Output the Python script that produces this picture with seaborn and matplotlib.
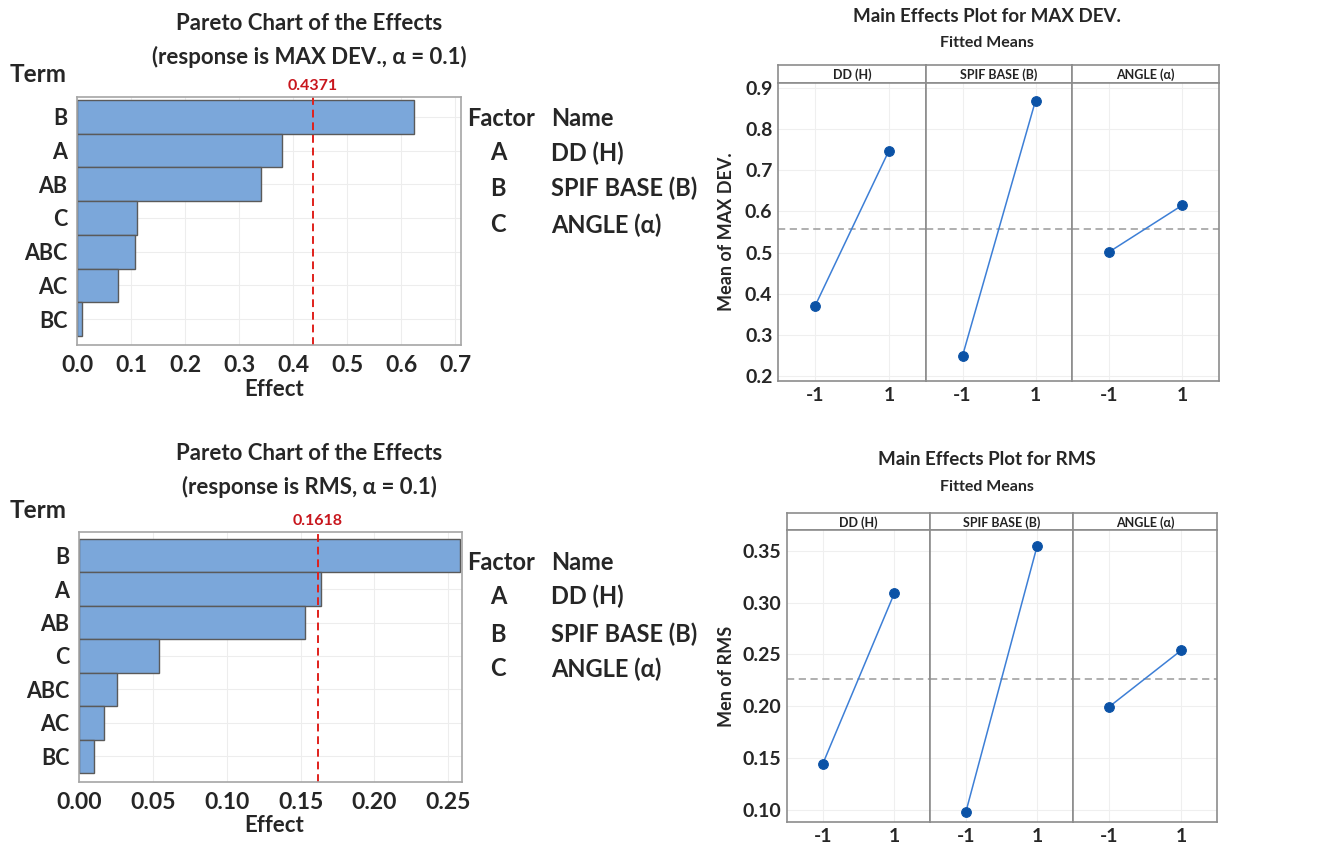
import matplotlib
matplotlib.use("Agg")
import matplotlib.pyplot as plt
import seaborn as sns
import pandas as pd

# ---- data ----
TERMS = ["B", "A", "AB", "C", "ABC", "AC", "BC"]
EFFECT_MAXDEV = [0.624, 0.380, 0.341, 0.111, 0.107, 0.076, 0.009]
EFFECT_RMS = [0.258, 0.164, 0.153, 0.054, 0.026, 0.017, 0.010]
LIMIT_MAXDEV = 0.4371
LIMIT_RMS = 0.1618

FACTOR_CODES = ["A", "B", "C"]
FACTOR_NAMES = ["DD (H)", "SPIF BASE (B)", "ANGLE (α)"]
LEVELS = [-1, 1]
MEANS_MAXDEV = [[0.370, 0.748], [0.249, 0.869], [0.501, 0.615]]
MEANS_RMS = [[0.1444, 0.3088], [0.0977, 0.3550], [0.1994, 0.2538]]
GRAND_MAXDEV = 0.558
GRAND_RMS = 0.2266

sns.set_style("white")
plt.rcParams["font.family"] = ["Lato", "DejaVu Sans"]
plt.rcParams["font.weight"] = "bold"

W, H = 1325, 850
fig = plt.figure(figsize=(W / 100, H / 100), dpi=100)


def px_axes(x0, y0, x1, y1):
    return fig.add_axes([x0 / W, 1 - y1 / H, (x1 - x0) / W, (y1 - y0) / H])


def ftext(x, y, s, **kw):
    kw.setdefault("fontweight", "bold")
    return fig.text(x / W, 1 - y / H, s, **kw)


BAR_COLOR = "#7BA7DA"
SPINE = "#A6A6A6"


def pareto(box, effects, limit, xmax, xticks, fmt, ylim, title_y, resp, legend_y):
    x0, y0, x1, y1 = box
    ax = px_axes(x0, y0, x1, y1)
    df = pd.DataFrame({"term": TERMS, "effect": effects})
    sns.barplot(data=df, x="effect", y="term", orient="h", color=BAR_COLOR,
                edgecolor="#5A5A5A", linewidth=1.0, width=1.0, saturation=1, ax=ax)
    ax.set_xlim(0, xmax)
    ax.set_ylim(*ylim)
    ax.set_xticks(xticks)
    ax.set_xticklabels([fmt.format(t) for t in xticks], fontsize=16.5, fontweight="bold")
    ax.set_yticklabels(TERMS, fontsize=15.5, fontweight="bold")
    ax.tick_params(axis="both", length=4, color=SPINE, pad=3)
    ax.set_xlabel("")
    ax.set_ylabel("")
    ax.grid(True, color="#EDEDED", linewidth=0.8)
    ax.set_axisbelow(True)
    for s in ax.spines.values():
        s.set_color(SPINE)
        s.set_linewidth(1.2)
    ax.axvline(limit, color="#E0201B", linestyle=(0, (4, 2.5)), linewidth=1.4)
    lx = x0 + (x1 - x0) * limit / xmax
    ftext(lx, y0 - 11, f"{limit:.4f}", color="#C8161D", fontsize=11.5,
          ha="center", va="center")
    ftext(309, title_y, "Pareto Chart of the Effects", fontsize=16, ha="center",
          va="center")
    ftext(309, title_y + 33, f"(response is {resp}, α = 0.1)", fontsize=16,
          ha="center", va="center")
    ftext(10, y0 - 22, "Term", fontsize=17.5, ha="left", va="center")
    ftext(274, y1 + 44, "Effect", fontsize=16, ha="center", va="center")
    # factor legend
    ly = legend_y
    ftext(467, ly[0], "Factor", fontsize=17, ha="left", va="center")
    ftext(551, ly[0], "Name", fontsize=17, ha="left", va="center")
    for code, name, yy in zip(FACTOR_CODES, FACTOR_NAMES, ly[1:]):
        ftext(498, yy, code, fontsize=17, ha="center", va="center")
        ftext(551, yy, name, fontsize=17, ha="left", va="center")


pareto((77, 97, 461, 345), EFFECT_MAXDEV, LIMIT_MAXDEV, 0.711,
       [0.0, 0.1, 0.2, 0.3, 0.4, 0.5, 0.6, 0.7], "{:.1f}", (6.77, -0.59),
       24, "MAX DEV.", [118, 153, 188, 225])
pareto((79, 532, 462, 782), EFFECT_RMS, LIMIT_RMS, 0.2593,
       [0.0, 0.05, 0.10, 0.15, 0.20, 0.25], "{:.2f}", (6.77, -0.71),
       454, "RMS", [562, 596, 634, 669])


LINE_C = "#3D7FD6"
MARK_C = "#0B52A6"


def main_effects(xs, ys, ylim, yticks, fmt, means, grand, title, ylabel, title_y, ylabel_x):
    strip_y0, ax_y0, ax_y1 = ys
    for i in range(3):
        sax = px_axes(xs[i], strip_y0, xs[i + 1], ax_y0)
        sax.set_xticks([])
        sax.set_yticks([])
        for s in sax.spines.values():
            s.set_color("#8C8C8C")
            s.set_linewidth(1.2)
        sax.text(0.5, 0.45, FACTOR_NAMES[i], transform=sax.transAxes, ha="center",
                 va="center", fontsize=9, fontweight="bold", color="#222222")

        ax = px_axes(xs[i], ax_y0, xs[i + 1], ax_y1)
        df = pd.DataFrame({"level": LEVELS, "mean": means[i]})
        ax.axhline(grand, color="#A9A9A9", linestyle=(0, (4, 2.5)), linewidth=1.3, zorder=1)
        sns.lineplot(data=df, x="level", y="mean", color=LINE_C, linewidth=1.1,
                     marker="o", markersize=7, markerfacecolor=MARK_C,
                     markeredgecolor=MARK_C, ax=ax, zorder=3)
        ax.set_xlim(-2, 2)
        ax.set_ylim(*ylim)
        ax.set_xticks(LEVELS)
        ax.set_xticklabels(["-1", "1"], fontsize=14, fontweight="bold")
        ax.set_yticks(yticks)
        if i == 0:
            ax.set_yticklabels([fmt.format(t) for t in yticks], fontsize=14,
                               fontweight="bold")
        else:
            ax.set_yticklabels([])
        ax.tick_params(axis="both", length=3, color="#8C8C8C", pad=1)
        if i > 0:
            ax.tick_params(axis="y", length=0)
        ax.set_xlabel("")
        ax.set_ylabel("")
        ax.grid(True, color="#EFEFEF", linewidth=0.8)
        ax.set_axisbelow(True)
        for s in ax.spines.values():
            s.set_color("#8C8C8C")
            s.set_linewidth(1.2)
    ftext(987, title_y, title, fontsize=13.5, ha="center", va="center")
    ftext(987, title_y + 27, "Fitted Means", fontsize=11.5, ha="center", va="center")
    ftext(ylabel_x, (ax_y0 + ax_y1) / 2, ylabel, fontsize=13, rotation=90,
          ha="center", va="center")


main_effects([778, 926, 1072, 1219], (65, 83, 381), (0.188, 0.912),
             [0.2, 0.3, 0.4, 0.5, 0.6, 0.7, 0.8, 0.9], "{:.1f}",
             MEANS_MAXDEV, GRAND_MAXDEV, "Main Effects Plot for MAX DEV.",
             "Mean of MAX DEV.", 16, 726)
main_effects([787, 930, 1073, 1217], (513, 530, 822), (0.0884, 0.370),
             [0.10, 0.15, 0.20, 0.25, 0.30, 0.35], "{:.2f}",
             MEANS_RMS, GRAND_RMS, "Main Effects Plot for RMS",
             "Men of RMS", 460, 727)

fig.savefig("out.png", dpi=100, facecolor="white")
